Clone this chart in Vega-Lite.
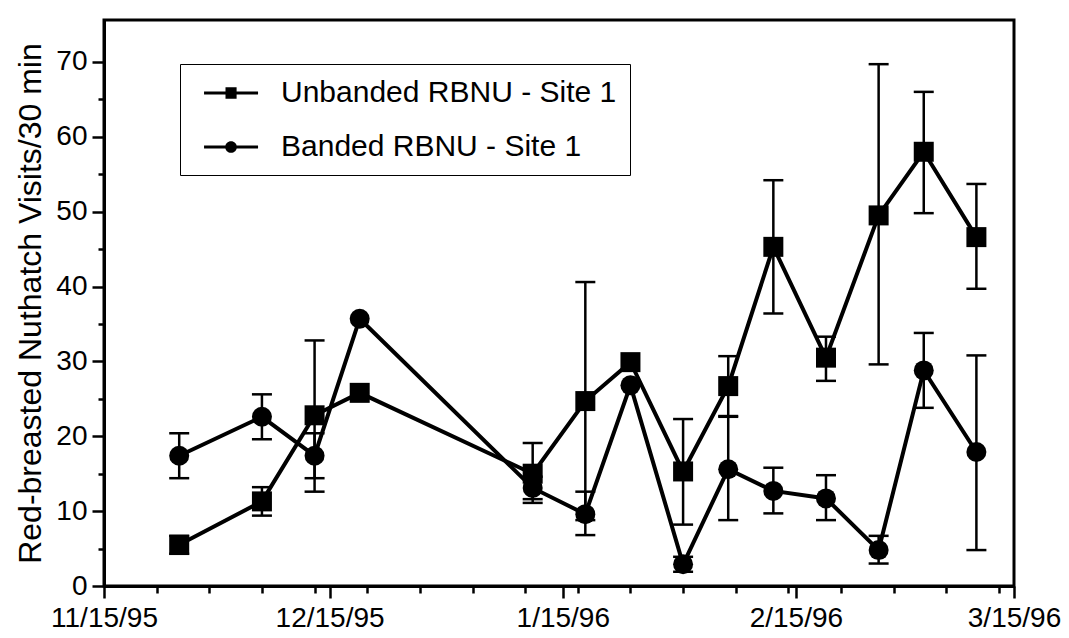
{
  "$schema": "https://vega.github.io/schema/vega-lite/v6.json",
  "width": 910,
  "height": 566,
  "autosize": {"type": "none"},
  "padding": {"left": 104, "top": 20, "right": 55, "bottom": 52},
  "background": "white",
  "config": {
    "view": {"stroke": "black", "strokeWidth": 3},
    "font": "Liberation Sans",
    "axis": {
      "domainColor": "black", "domainWidth": 3, "tickColor": "black", "tickWidth": 2.5,
      "labelColor": "black", "labelFont": "Liberation Sans", "labelFontSize": 28,
      "grid": false, "titleColor": "black", "titleFont": "Liberation Sans",
      "titleFontWeight": "normal", "labelFlush": false, "labelOverlap": false
    }
  },
  "data": {
    "values": [
      {"series": "Unbanded RBNU - Site 1", "date": "1995/11/25", "v": 5.5, "lo": 4.3, "hi": 6.7},
      {"series": "Unbanded RBNU - Site 1", "date": "1995/12/06", "v": 11.3, "lo": 9.4, "hi": 13.2},
      {"series": "Unbanded RBNU - Site 1", "date": "1995/12/13", "v": 22.8, "lo": 12.6, "hi": 32.8},
      {"series": "Unbanded RBNU - Site 1", "date": "1995/12/19", "v": 25.8, "lo": null, "hi": null},
      {"series": "Unbanded RBNU - Site 1", "date": "1996/01/11", "v": 15.0, "lo": 11.1, "hi": 19.1},
      {"series": "Unbanded RBNU - Site 1", "date": "1996/01/18", "v": 24.7, "lo": 8.8, "hi": 40.6},
      {"series": "Unbanded RBNU - Site 1", "date": "1996/01/24", "v": 29.9, "lo": null, "hi": null},
      {"series": "Unbanded RBNU - Site 1", "date": "1996/01/31", "v": 15.3, "lo": 8.2, "hi": 22.3},
      {"series": "Unbanded RBNU - Site 1", "date": "1996/02/06", "v": 26.7, "lo": 22.7, "hi": 30.7},
      {"series": "Unbanded RBNU - Site 1", "date": "1996/02/12", "v": 45.3, "lo": 36.4, "hi": 54.2},
      {"series": "Unbanded RBNU - Site 1", "date": "1996/02/19", "v": 30.5, "lo": 27.4, "hi": 33.3},
      {"series": "Unbanded RBNU - Site 1", "date": "1996/02/26", "v": 49.5, "lo": 29.6, "hi": 69.7},
      {"series": "Unbanded RBNU - Site 1", "date": "1996/03/03", "v": 58.0, "lo": 49.8, "hi": 66.0},
      {"series": "Unbanded RBNU - Site 1", "date": "1996/03/10", "v": 46.6, "lo": 39.7, "hi": 53.7},
      {"series": "Banded RBNU - Site 1", "date": "1995/11/25", "v": 17.4, "lo": 14.4, "hi": 20.4},
      {"series": "Banded RBNU - Site 1", "date": "1995/12/06", "v": 22.6, "lo": 19.6, "hi": 25.6},
      {"series": "Banded RBNU - Site 1", "date": "1995/12/13", "v": 17.4, "lo": 14.4, "hi": 20.4},
      {"series": "Banded RBNU - Site 1", "date": "1995/12/19", "v": 35.7, "lo": null, "hi": null},
      {"series": "Banded RBNU - Site 1", "date": "1996/01/11", "v": 13.1, "lo": 11.6, "hi": 14.6},
      {"series": "Banded RBNU - Site 1", "date": "1996/01/18", "v": 9.6, "lo": 6.8, "hi": 12.6},
      {"series": "Banded RBNU - Site 1", "date": "1996/01/24", "v": 26.8, "lo": null, "hi": null},
      {"series": "Banded RBNU - Site 1", "date": "1996/01/31", "v": 2.9, "lo": 1.9, "hi": 3.9},
      {"series": "Banded RBNU - Site 1", "date": "1996/02/06", "v": 15.6, "lo": 8.8, "hi": 22.6},
      {"series": "Banded RBNU - Site 1", "date": "1996/02/12", "v": 12.7, "lo": 9.7, "hi": 15.8},
      {"series": "Banded RBNU - Site 1", "date": "1996/02/19", "v": 11.7, "lo": 8.8, "hi": 14.8},
      {"series": "Banded RBNU - Site 1", "date": "1996/02/26", "v": 4.8, "lo": 3.0, "hi": 6.7},
      {"series": "Banded RBNU - Site 1", "date": "1996/03/03", "v": 28.8, "lo": 23.8, "hi": 33.8},
      {"series": "Banded RBNU - Site 1", "date": "1996/03/10", "v": 17.9, "lo": 4.8, "hi": 30.8}
    ]
  },
  "layer": [
    {
      "transform": [{"filter": "datum.lo != null"}],
      "mark": {"type": "rule", "color": "black", "strokeWidth": 2.5},
      "encoding": {
        "x": {
          "field": "date", "type": "temporal",
          "scale": {"domain": [{"year": 1995, "month": 11, "date": 15}, {"year": 1996, "month": 3, "date": 15}]},
          "axis": {
            "orient": "bottom", "title": null, "format": "%-m/%d/%y", "formatType": "time",
            "tickSize": 12, "labelPadding": 6,
            "values": [
              {"year": 1995, "month": 11, "date": 15}, {"year": 1995, "month": 12, "date": 15},
              {"year": 1996, "month": 1, "date": 15}, {"year": 1996, "month": 2, "date": 15},
              {"year": 1996, "month": 3, "date": 15}
            ]
          }
        },
        "y": {
          "field": "lo", "type": "quantitative",
          "scale": {"domain": [0, 75.6], "nice": false, "zero": false},
          "axis": {
            "orient": "left", "title": "Red-breasted Nuthatch Visits/30 min",
            "titleFontSize": 32, "titlePadding": 8,
            "values": [0, 10, 20, 30, 40, 50, 60, 70], "tickSize": 12, "labelPadding": 5
          }
        },
        "y2": {"field": "hi"}
      }
    },
    {
      "mark": {"type": "line", "color": "black", "strokeWidth": 4},
      "encoding": {
        "x": {
          "field": "date", "type": "temporal",
          "scale": {"domain": [{"year": 1995, "month": 11, "date": 15}, {"year": 1996, "month": 3, "date": 15}]},
          "axis": {
            "orient": "bottom", "title": null, "labels": false, "domain": false, "tickSize": 7,
            "values": [
              {"year": 1995, "month": 11, "date": 22}, {"year": 1995, "month": 11, "date": 29},
              {"year": 1995, "month": 12, "date": 6}, {"year": 1995, "month": 12, "date": 13},
              {"year": 1995, "month": 12, "date": 20}, {"year": 1995, "month": 12, "date": 27},
              {"year": 1996, "month": 1, "date": 3}, {"year": 1996, "month": 1, "date": 10},
              {"year": 1996, "month": 1, "date": 17}, {"year": 1996, "month": 1, "date": 24},
              {"year": 1996, "month": 1, "date": 31}, {"year": 1996, "month": 2, "date": 7},
              {"year": 1996, "month": 2, "date": 14}, {"year": 1996, "month": 2, "date": 21},
              {"year": 1996, "month": 2, "date": 28}, {"year": 1996, "month": 3, "date": 6},
              {"year": 1996, "month": 3, "date": 13}
            ]
          }
        },
        "y": {
          "field": "v", "type": "quantitative",
          "scale": {"domain": [0, 75.6], "nice": false, "zero": false},
          "axis": {
            "orient": "left", "title": null, "labels": false, "domain": false, "tickSize": 6,
            "values": [5, 15, 25, 35, 45, 55, 65]
          }
        },
        "detail": {"field": "series", "type": "nominal"}
      }
    },
    {
      "transform": [{"filter": "datum.lo != null"}],
      "mark": {"type": "tick", "orient": "horizontal", "size": 20, "thickness": 2.5, "color": "black", "opacity": 1},
      "encoding": {
        "x": {
          "field": "date", "type": "temporal",
          "scale": {"domain": [{"year": 1995, "month": 11, "date": 15}, {"year": 1996, "month": 3, "date": 15}]},
          "axis": null
        },
        "y": {
          "field": "lo", "type": "quantitative",
          "scale": {"domain": [0, 75.6], "nice": false, "zero": false},
          "axis": null
        }
      }
    },
    {
      "transform": [{"filter": "datum.hi != null"}],
      "mark": {"type": "tick", "orient": "horizontal", "size": 20, "thickness": 2.5, "color": "black", "opacity": 1},
      "encoding": {
        "x": {
          "field": "date", "type": "temporal",
          "scale": {"domain": [{"year": 1995, "month": 11, "date": 15}, {"year": 1996, "month": 3, "date": 15}]},
          "axis": null
        },
        "y": {
          "field": "hi", "type": "quantitative",
          "scale": {"domain": [0, 75.6], "nice": false, "zero": false},
          "axis": null
        }
      }
    },
    {
      "mark": {"type": "point", "filled": true, "size": 400, "color": "black", "opacity": 1},
      "encoding": {
        "x": {
          "field": "date", "type": "temporal",
          "scale": {"domain": [{"year": 1995, "month": 11, "date": 15}, {"year": 1996, "month": 3, "date": 15}]},
          "axis": null
        },
        "y": {
          "field": "v", "type": "quantitative",
          "scale": {"domain": [0, 75.6], "nice": false, "zero": false},
          "axis": null
        },
        "shape": {
          "field": "series", "type": "nominal",
          "scale": {"domain": ["Unbanded RBNU - Site 1", "Banded RBNU - Site 1"], "range": ["square", "circle"]},
          "legend": null
        }
      }
    },
    {
      "transform": [{"filter": "false"}],
      "mark": {"type": "point", "filled": true, "color": "black", "opacity": 1},
      "encoding": {
        "x": {
          "field": "date", "type": "temporal",
          "scale": {"domain": [{"year": 1995, "month": 11, "date": 15}, {"year": 1996, "month": 3, "date": 15}]},
          "axis": null
        },
        "y": {
          "field": "v", "type": "quantitative",
          "scale": {"domain": [0, 75.6], "nice": false, "zero": false},
          "axis": null
        },
        "shape": {
          "field": "series", "type": "nominal",
          "scale": {
            "domain": ["Unbanded RBNU - Site 1", "Banded RBNU - Site 1"],
            "range": [
              "M-0.33,-0.1H3.27V0.1H-0.33ZM1.1,-0.38H1.84V0.38H1.1Z",
              "M-0.33,-0.1H3.27V0.1H-0.33ZM1.08,0A0.39,0.39 0 1,1 1.86,0A0.39,0.39 0 1,1 1.08,0Z"
            ]
          },
          "legend": {
            "title": null, "orient": "none", "legendX": 76, "legendY": 44,
            "strokeColor": "black", "fillColor": "white", "padding": 13,
            "labelFont": "Liberation Sans", "labelFontSize": 30, "labelColor": "black", "labelLimit": 600,
            "symbolSize": 900, "rowPadding": 23, "labelOffset": 56,
            "symbolFillColor": "black", "symbolOpacity": 1,
            "encode": {
              "legend": {"update": {"strokeWidth": {"value": 2.5}}},
              "symbols": {
                "update": {
                  "fill": {"value": "black"},
                  "opacity": {"value": 1}
                }
              }
            }
          }
        }
      }
    }
  ],
  "resolve": {
    "axis": {"x": "independent", "y": "independent"},
    "scale": {"shape": "independent"},
    "legend": {"shape": "independent"}
  }
}
